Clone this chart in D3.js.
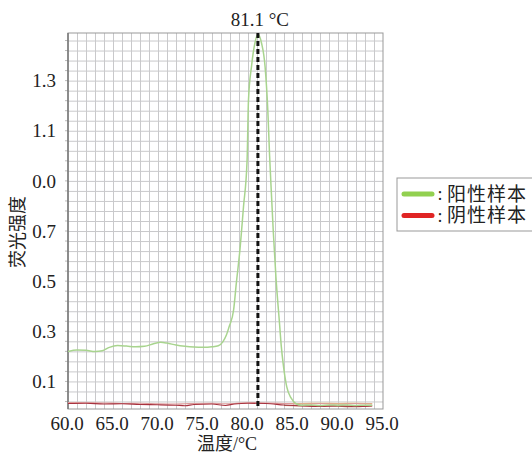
<!DOCTYPE html>
<html>
<head>
<meta charset="utf-8">
<script src="https://cdn.jsdelivr.net/npm/d3@7"></script>
<style>
  body { margin: 0; background: #fff; }
  .grid line { stroke: #c9c9cb; stroke-width: 1; }
  .grid path { display: none; }
</style>
</head>
<body>
<svg id="chart"></svg>
<script>
// Positive sample (green) melt curve
var posTemp = [60.0, 61.0, 62.0, 63.0, 63.8, 64.6, 65.5, 66.5, 67.5, 68.5, 69.5, 70.3, 71.0, 72.0, 73.0, 74.0, 75.0, 76.0, 76.7, 77.2, 77.6, 77.9, 78.4, 78.7, 79.1, 79.5, 79.9, 80.05, 80.4, 80.8, 81.1, 81.5, 81.9, 82.2, 82.4, 82.6, 82.8, 83.1, 83.5, 83.7, 83.9, 84.3, 84.8, 85.3, 86.0, 87.0, 88.0, 89.0, 90.0, 91.0, 92.0, 93.0, 93.8];
var posVal  = [0.219, 0.225, 0.224, 0.219, 0.222, 0.236, 0.243, 0.241, 0.238, 0.240, 0.250, 0.256, 0.253, 0.245, 0.240, 0.237, 0.236, 0.238, 0.242, 0.258, 0.285, 0.318, 0.385, 0.491, 0.624, 0.797, 0.983, 1.22, 1.36, 1.455, 1.485, 1.45, 1.355, 1.183, 1.00, 0.85, 0.704, 0.518, 0.332, 0.24, 0.173, 0.079, 0.033, 0.012, 0.005, 0.006, 0.004, 0.006, 0.005, 0.006, 0.004, 0.005, 0.005];

// Negative samples (red) near baseline
var negTemp = [60, 62, 64, 66, 68, 70, 72, 73, 74, 76, 77.5, 78.5, 80, 82, 84, 86, 88, 90, 92, 93.8];
var negValA = [0.012, 0.013, 0.010, 0.011, 0.008, 0.007, 0.005, 0.003, 0.008, 0.010, 0.004, 0.010, 0.013, 0.012, 0.006, 0.002, 0.000, 0.003, 0.000, 0.002];
var negValB = [0.016, 0.015, 0.014, 0.012, 0.013, 0.011, 0.010, 0.011, 0.012, 0.013, 0.011, 0.012, 0.015, 0.014, 0.012, 0.010, 0.012, 0.010, 0.012, 0.010];

// extra traces at the tail end
var tailTemp = [84, 86, 88, 90, 92, 93.8];
var tailValA = [0.012, 0.012, 0.013, 0.012, 0.013, 0.012];
var tailValB = [0.004, 0.003, 0.004, 0.001, -0.001, 0.003];

var xTicks = [60, 65, 70, 75, 80, 85, 90, 95];
var yTicks = [0.1, 0.3, 0.5, 0.7, 0.9, 1.1, 1.3];
var yTickLabels = ["0.1", "0.3", "0.5", "0.7", "0.0", "1.1", "1.3"];
var peakTemp = 81.1;
var legendLabels = ["阳性样本", "阴性样本"];
var legendColors = ["#92d050", "#e02424"];

var FONT = "'Liberation Serif', 'Noto Sans CJK SC', serif";

var W = 532, H = 454;
var margin = { top: 33, right: 149, bottom: 45, left: 68 },
    width = W - margin.left - margin.right,
    height = H - margin.top - margin.bottom;

var svg = d3.select("#chart").attr("width", W).attr("height", H);
var g = svg.append("g").attr("transform", "translate(" + margin.left + "," + margin.top + ")");

var x = d3.scaleLinear().domain([60, 95]).range([0, width]);
var y = d3.scaleLinear().domain([-0.01, 1.49]).range([height, 0]);

// grid: 1 degree columns, 0.04 rows
g.append("g")
    .attr("class", "grid")
    .attr("transform", "translate(0," + height + ")")
    .call(d3.axisBottom(x).tickValues(d3.range(61, 95, 1)).tickSize(-height).tickFormat(""));

var rows = d3.range(0.1 - 0.04 * 2, 1.49, 0.04).filter(v => v > -0.01 && v < 1.485);
g.append("g")
    .attr("class", "grid")
    .call(d3.axisLeft(y).tickValues(rows).tickSize(-width).tickFormat(""));

// minor ticks outside left axis
g.append("g").selectAll("line")
    .data(rows)
    .enter().append("line")
    .attr("x1", -3).attr("x2", 0)
    .attr("y1", d => y(d)).attr("y2", d => y(d))
    .attr("stroke", "#bbb");

// frame
g.append("rect")
    .attr("width", width).attr("height", height)
    .attr("fill", "none").attr("stroke", "#999");
g.append("line")
    .attr("x1", 0).attr("x2", 0).attr("y1", 0).attr("y2", height)
    .attr("stroke", "#777").attr("stroke-width", 1.5);

g.append("clipPath").attr("id", "clip")
    .append("rect").attr("width", width).attr("height", height);

var plot = g.append("g").attr("clip-path", "url(#clip)");

function drawLine(temps, vals, color, w) {
    var pts = temps.map((t, i) => [t, vals[i]]);
    plot.append("path")
        .datum(pts)
        .attr("fill", "none")
        .attr("stroke", color)
        .attr("stroke-width", w)
        .attr("d", d3.line().curve(d3.curveMonotoneX).x(d => x(d[0])).y(d => y(d[1])));
}

drawLine(tailTemp, tailValA, "#e6c37a", 1.2);
drawLine(tailTemp, tailValB, "#a8755a", 1.2);
drawLine(negTemp, negValB, "#dc9a9a", 1.2);
drawLine(negTemp, negValA, "#a8323e", 1.2);
drawLine(posTemp, posVal, "#a8d48e", 1.5);

// peak marker
g.append("line")
    .attr("x1", x(peakTemp)).attr("x2", x(peakTemp))
    .attr("y1", 0).attr("y2", height)
    .attr("stroke", "#111").attr("stroke-width", 3)
    .attr("stroke-dasharray", "5,3");

g.append("text")
    .attr("x", x(peakTemp) + 2).attr("y", -7)
    .attr("text-anchor", "middle")
    .attr("fill", "#222")
    .style("font-family", FONT)
    .style("font-size", "19px")
    .text(peakTemp.toFixed(1) + " °C");

// tick labels
g.append("g").selectAll("text")
    .data(xTicks)
    .enter().append("text")
    .attr("x", d => x(d) - 1)
    .attr("y", height + 21)
    .attr("text-anchor", "middle")
    .attr("fill", "#222")
    .style("font-family", FONT)
    .style("font-size", "19px")
    .text(d => d.toFixed(1));

g.append("g").selectAll("text")
    .data(yTicks)
    .enter().append("text")
    .attr("x", -12)
    .attr("y", d => y(d))
    .attr("dy", "0.35em")
    .attr("text-anchor", "end")
    .attr("fill", "#222")
    .style("font-family", FONT)
    .style("font-size", "19px")
    .text((d, i) => yTickLabels[i]);

// axis titles
svg.append("text")
    .attr("transform", "translate(24,232) rotate(-90)")
    .attr("text-anchor", "middle")
    .attr("fill", "#222")
    .style("font-family", FONT)
    .style("font-size", "18px")
    .text("荧光强度");

svg.append("text")
    .attr("x", 227).attr("y", 450)
    .attr("text-anchor", "middle")
    .attr("fill", "#222")
    .style("font-family", FONT)
    .style("font-size", "18px")
    .text("温度/°C");

// legend
var legend = svg.append("g").attr("transform", "translate(397,178)");
legend.append("rect")
    .attr("width", 140).attr("height", 53)
    .attr("fill", "#fff").attr("stroke", "#999");
legendLabels.forEach(function (lab, i) {
    var ly = 16 + i * 21.5;
    legend.append("line")
        .attr("x1", 7).attr("x2", 35)
        .attr("y1", ly).attr("y2", ly)
        .attr("stroke", legendColors[i]).attr("stroke-width", 5)
        .attr("stroke-linecap", "round");
    legend.append("text")
        .attr("x", 43).attr("y", ly).attr("dy", "0.35em")
        .attr("text-anchor", "middle")
        .attr("fill", "#222")
        .style("font-family", FONT)
        .style("font-size", "18px")
        .text(":");
    legend.append("text")
        .attr("x", 50).attr("y", ly).attr("dy", "0.35em")
        .attr("fill", "#222")
        .style("font-family", FONT)
        .style("font-size", "19px")
        .attr("letter-spacing", "1px")
        .text(lab);
});
</script>
</body>
</html>
